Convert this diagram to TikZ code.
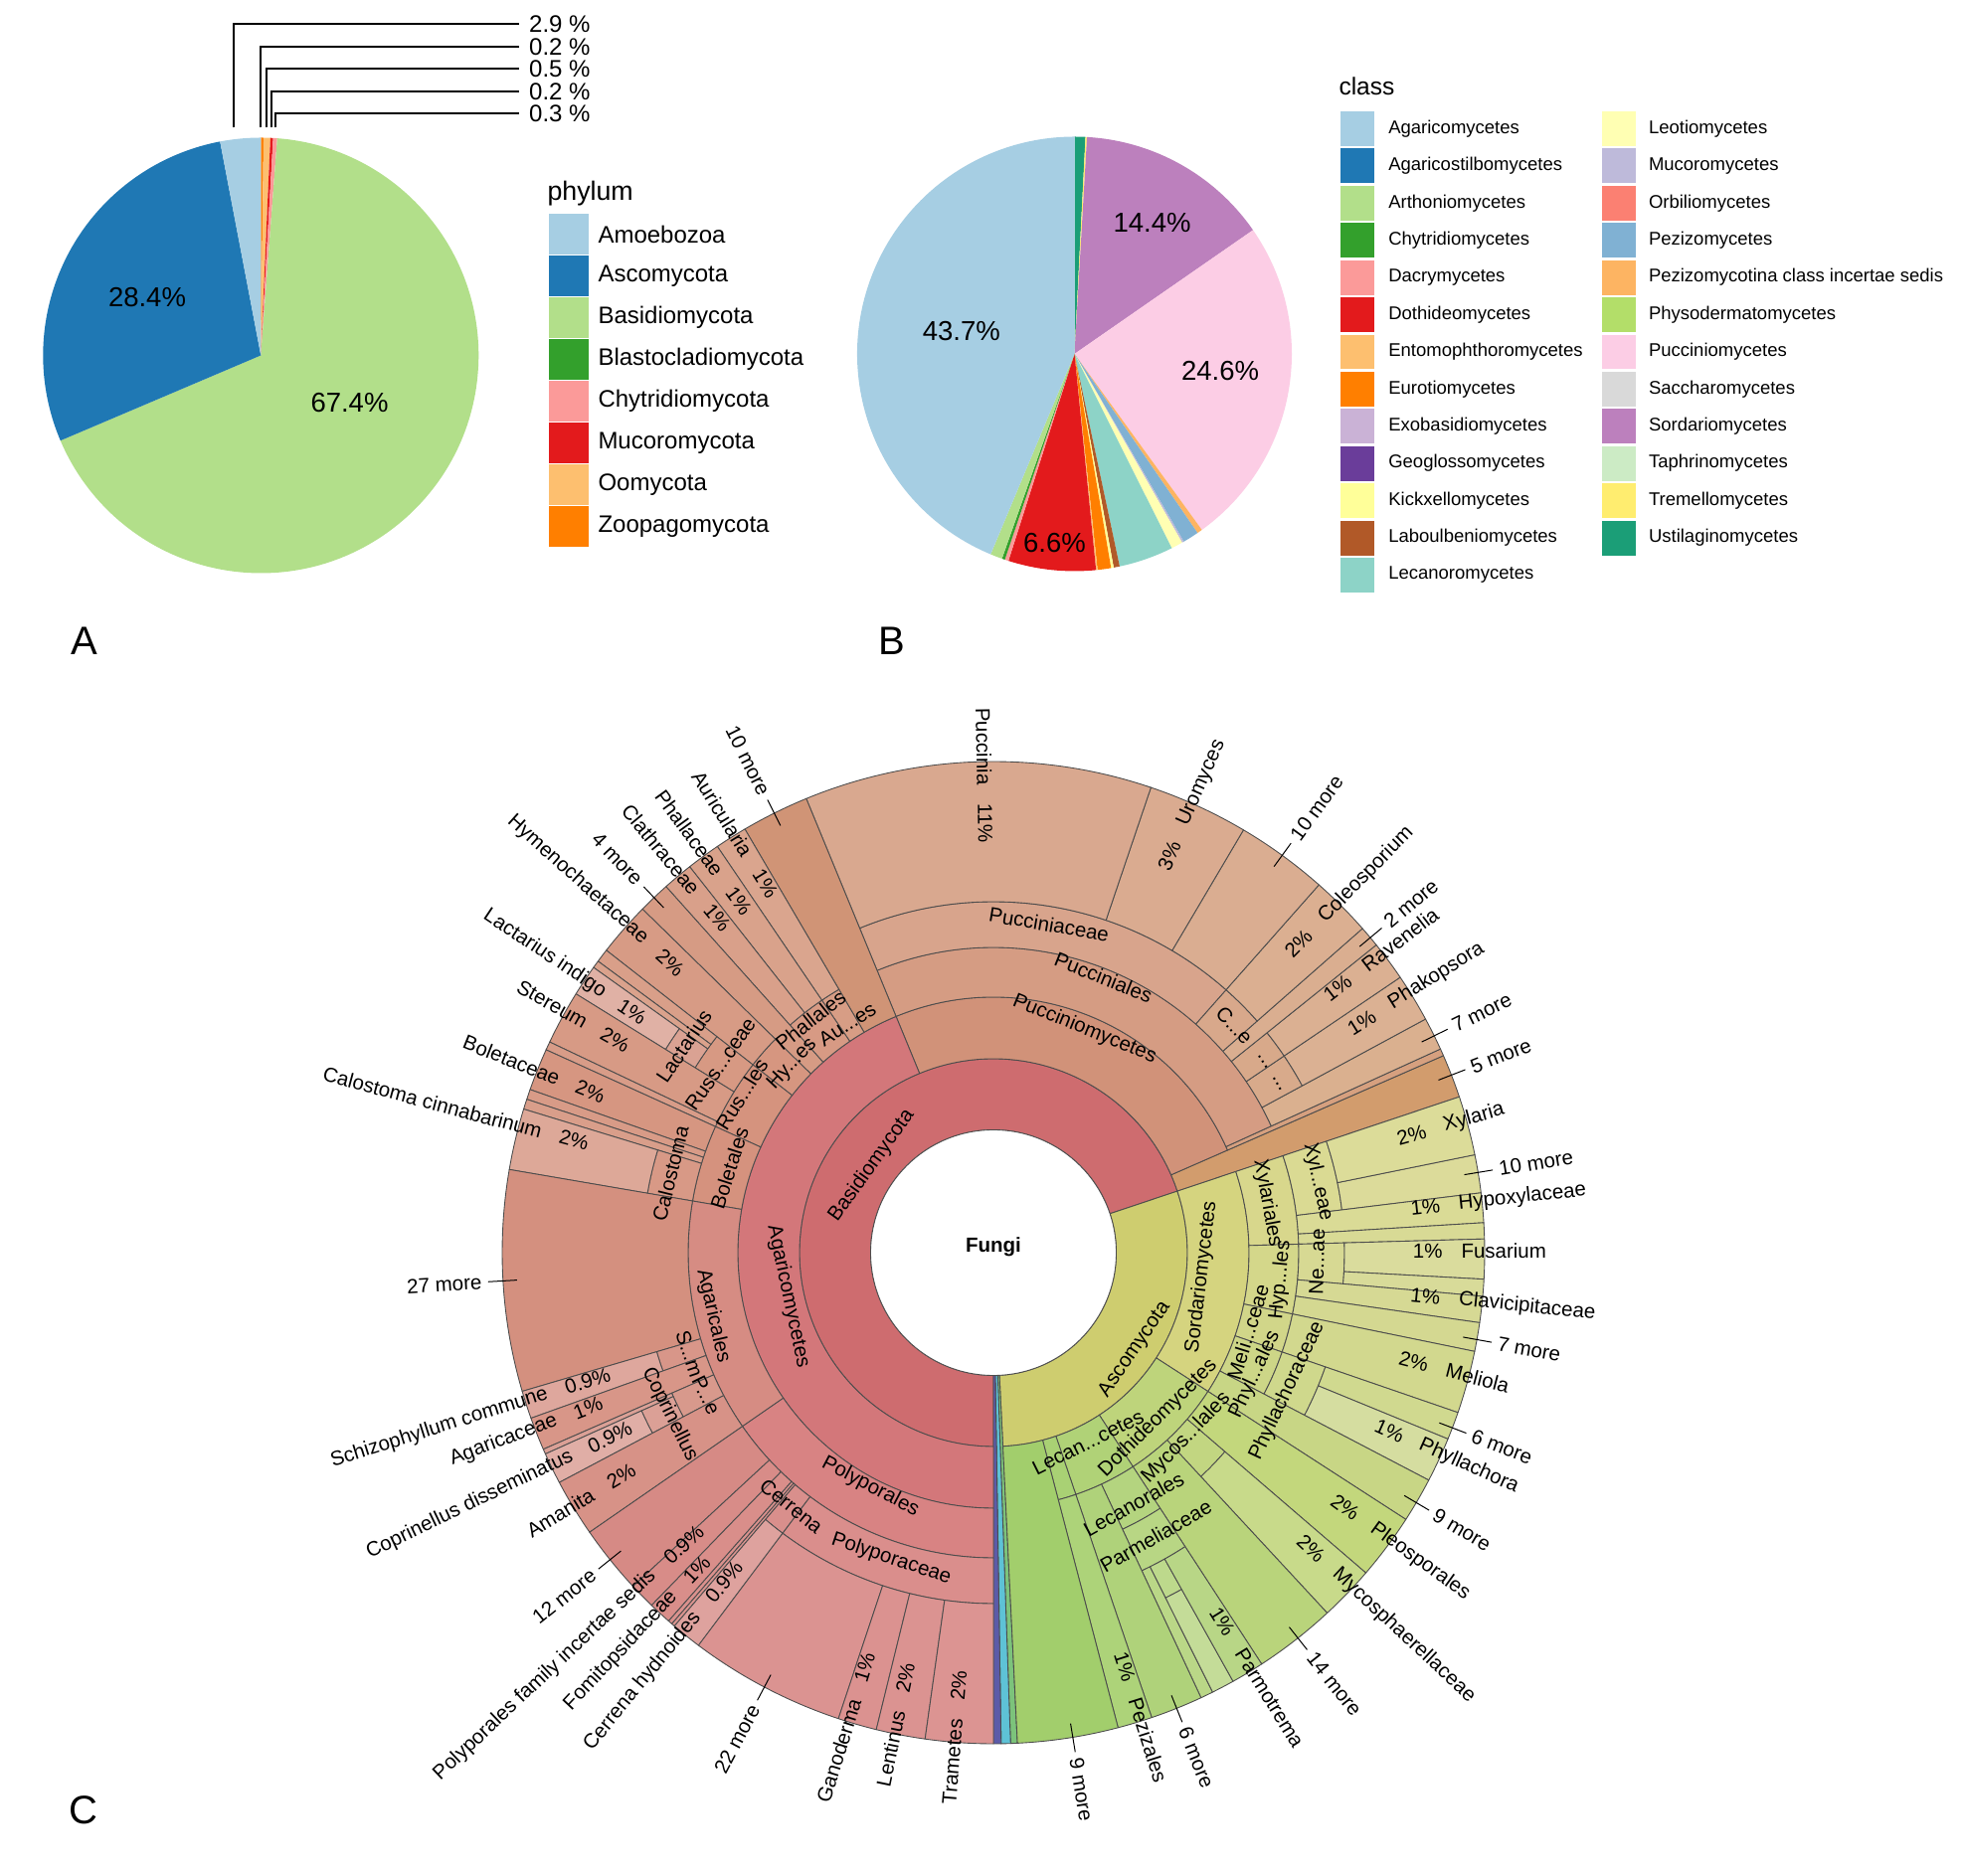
\documentclass[tikz,border=0pt]{standalone}
\usepackage{fontspec}
\setmainfont{Liberation Sans}
\definecolor{lnc}{HTML}{4C4C4C}
\newcommand{\sbc}[5]{\definecolor{tmpc}{HTML}{#5}\filldraw[fill=tmpc,draw=lnc,line width=0.35pt,line join=round] (#1:#3) arc[start angle=#1,end angle=#2,radius=#3] -- (#2:#4) arc[start angle=#2,end angle=#1,radius=#4] -- cycle;}
\newcommand{\pslice}[6]{\definecolor{tmpc}{HTML}{#6}\fill[tmpc] (#1,#2) -- ++(#4:#3) arc[start angle=#4,end angle=#5,radius=#3] -- cycle;}
\newcommand{\lkey}[8]{\definecolor{tmpc}{HTML}{#5}\fill[tmpc] (#1,#3) rectangle (#2,{#3-#4});\node[#7,anchor=west] at (#6,{#3-#4/2}) {#8};}
\newcommand{\leafR}[3]{\node[lbl,anchor=east,rotate=#1] at (#1:452) {#2};\node[lbl,anchor=west,rotate=#1] at (#1:470) {#3};}
\newcommand{\leafL}[3]{\pgfmathsetmacro{\rotL}{#1-180}\node[lbl,anchor=west,rotate=\rotL] at (#1:452) {#2};\node[lbl,anchor=east,rotate=\rotL] at (#1:470) {#3};}
\newcommand{\moreR}[2]{\draw[ldr] (#1:480) -- (#1:509);\node[lbl,anchor=west,rotate=#1] at (#1:515) {#2};}
\newcommand{\moreL}[2]{\pgfmathsetmacro{\rotL}{#1-180}\draw[ldr] (#1:480) -- (#1:509);\node[lbl,anchor=east,rotate=\rotL] at (#1:515) {#2};}
\newcommand{\tanl}[4]{\node[lbl,rotate=#3] at (#1:#2) {#4};}
\begin{document}
\begin{tikzpicture}[x=0.4pt,y=0.4pt,
  lbl/.style={font=\fontsize{8.2}{9.8}\selectfont,inner sep=0pt,text=black},
  ldr/.style={draw=black,line width=0.4pt},
  ldA/.style={draw=black,line width=0.8pt},
  legA/.style={font=\fontsize{9.6}{11}\selectfont,inner sep=0pt},
  legB/.style={font=\fontsize{7.4}{9}\selectfont,inner sep=0pt},
  pct/.style={font=\fontsize{11}{13}\selectfont,inner sep=0pt},
  pan/.style={font=\fontsize{16}{18}\selectfont,inner sep=0pt}]
\useasboundingbox (0,0) rectangle (1975,1887);
\fill[white] (0,0) rectangle (1975,1887);
% ================= Panel A =================
\pslice{262.3}{1529.5}{219}{90}{89.28}{FF7F00}
\pslice{262.3}{1529.5}{219}{89.28}{87.48}{FDBF6F}
\pslice{262.3}{1529.5}{219}{87.48}{86.76}{E31A1C}
\pslice{262.3}{1529.5}{219}{86.76}{85.68}{FB9A99}
\pslice{262.3}{1529.5}{219}{85.68}{-156.96}{B2DF8A}
\pslice{262.3}{1529.5}{219}{-156.96}{-259.2}{1F78B4}
\pslice{262.3}{1529.5}{219}{-259.2}{-270}{A6CEE3}
\node[pct] (pA1) at (148,1588.4) {28.4\%};
\node[pct] (pA2) at (351.5,1481.6) {67.4\%};
\draw[ldA] (235,1758.7) |- (521.7,1862.7);
\draw[ldA] (261.7,1758.7) |- (521.7,1840.3);
\draw[ldA] (267.7,1758.7) |- (521.7,1818);
\draw[ldA] (272.7,1758.7) |- (521.7,1795.3);
\draw[ldA] (277.3,1758.7) |- (521.7,1772.7);
\node[legA,anchor=west] (t1) at (531.7,1862.5) {2.9 \%};
\node[legA,anchor=west] (t2) at (531.7,1840.1) {0.2 \%};
\node[legA,anchor=west] (t3) at (531.7,1817.8) {0.5 \%};
\node[legA,anchor=west] (t4) at (531.7,1795.1) {0.2 \%};
\node[legA,anchor=west] (t5) at (531.7,1772.5) {0.3 \%};
\node[font=\fontsize{10.7}{12}\selectfont,inner sep=0pt,anchor=west] (tA) at (550,1692) {phylum};
\lkey{551.5}{592.4}{1672}{41}{A6CEE3}{601}{legA}{Amoebozoa}
\lkey{551.5}{592.4}{1629.95}{41}{1F78B4}{601}{legA}{Ascomycota}
\lkey{551.5}{592.4}{1587.9}{41}{B2DF8A}{601}{legA}{Basidiomycota}
\lkey{551.5}{592.4}{1545.85}{41}{33A02C}{601}{legA}{Blastocladiomycota}
\lkey{551.5}{592.4}{1503.8}{41}{FB9A99}{601}{legA}{Chytridiomycota}
\lkey{551.5}{592.4}{1461.75}{41}{E31A1C}{601}{legA}{Mucoromycota}
\lkey{551.5}{592.4}{1419.7}{41}{FDBF6F}{601}{legA}{Oomycota}
\lkey{551.5}{592.4}{1377.65}{41}{FF7F00}{601}{legA}{Zoopagomycota}
\node[pan] (LA) at (84.5,1242) {A};
% ================= Panel B =================
\pslice{1080.5}{1531}{218.5}{90}{87.1}{1B9E77}
\pslice{1080.5}{1531}{218.5}{87.1}{86.7}{FFED6F}
\pslice{1080.5}{1531}{218.5}{86.7}{34.75}{BC80BD}
\pslice{1080.5}{1531}{218.5}{34.75}{-54.1}{FCCDE5}
\pslice{1080.5}{1531}{218.5}{-54.1}{-55.5}{FDB462}
\pslice{1080.5}{1531}{218.5}{-55.5}{-59.8}{80B1D3}
\pslice{1080.5}{1531}{218.5}{-59.8}{-60.3}{BEBADA}
\pslice{1080.5}{1531}{218.5}{-60.3}{-63.4}{FFFFB3}
\pslice{1080.5}{1531}{218.5}{-63.4}{-78.0}{8DD3C7}
\pslice{1080.5}{1531}{218.5}{-78.0}{-79.6}{B15928}
\pslice{1080.5}{1531}{218.5}{-79.6}{-80.3}{FFFF99}
\pslice{1080.5}{1531}{218.5}{-80.3}{-83.9}{FF7F00}
\pslice{1080.5}{1531}{218.5}{-83.9}{-84.3}{FDBF6F}
\pslice{1080.5}{1531}{218.5}{-84.3}{-107.7}{E31A1C}
\pslice{1080.5}{1531}{218.5}{-107.7}{-108.7}{FB9A99}
\pslice{1080.5}{1531}{218.5}{-108.7}{-109.5}{33A02C}
\pslice{1080.5}{1531}{218.5}{-109.5}{-112.7}{B2DF8A}
\pslice{1080.5}{1531}{218.5}{-112.7}{-270}{A6CEE3}
\node[pct] (pB1) at (966.8,1553.5) {43.7\%};
\node[pct] (pB2) at (1158.6,1662.5) {14.4\%};
\node[pct] (pB3) at (1227.1,1514.3) {24.6\%};
\node[pct] (pB4) at (1060.5,1341.2) {6.6\%};
\node[font=\fontsize{9.8}{11}\selectfont,inner sep=0pt,anchor=west] (tB) at (1346,1800) {class};
\lkey{1347.5}{1382}{1775}{34.9}{A6CEE3}{1395.8}{legB}{Agaricomycetes}
\lkey{1347.5}{1382}{1737.58}{34.9}{1F78B4}{1395.8}{legB}{Agaricostilbomycetes}
\lkey{1347.5}{1382}{1700.16}{34.9}{B2DF8A}{1395.8}{legB}{Arthoniomycetes}
\lkey{1347.5}{1382}{1662.74}{34.9}{33A02C}{1395.8}{legB}{Chytridiomycetes}
\lkey{1347.5}{1382}{1625.32}{34.9}{FB9A99}{1395.8}{legB}{Dacrymycetes}
\lkey{1347.5}{1382}{1587.9}{34.9}{E31A1C}{1395.8}{legB}{Dothideomycetes}
\lkey{1347.5}{1382}{1550.48}{34.9}{FDBF6F}{1395.8}{legB}{Entomophthoromycetes}
\lkey{1347.5}{1382}{1513.06}{34.9}{FF7F00}{1395.8}{legB}{Eurotiomycetes}
\lkey{1347.5}{1382}{1475.64}{34.9}{CAB2D6}{1395.8}{legB}{Exobasidiomycetes}
\lkey{1347.5}{1382}{1438.22}{34.9}{6A3D9A}{1395.8}{legB}{Geoglossomycetes}
\lkey{1347.5}{1382}{1400.8}{34.9}{FFFF99}{1395.8}{legB}{Kickxellomycetes}
\lkey{1347.5}{1382}{1363.38}{34.9}{B15928}{1395.8}{legB}{Laboulbeniomycetes}
\lkey{1347.5}{1382}{1325.96}{34.9}{8DD3C7}{1395.8}{legB}{Lecanoromycetes}
\lkey{1610.6}{1644.5}{1775}{34.9}{FFFFB3}{1657.5}{legB}{Leotiomycetes}
\lkey{1610.6}{1644.5}{1737.58}{34.9}{BEBADA}{1657.5}{legB}{Mucoromycetes}
\lkey{1610.6}{1644.5}{1700.16}{34.9}{FB8072}{1657.5}{legB}{Orbiliomycetes}
\lkey{1610.6}{1644.5}{1662.74}{34.9}{80B1D3}{1657.5}{legB}{Pezizomycetes}
\lkey{1610.6}{1644.5}{1625.32}{34.9}{FDB462}{1657.5}{legB}{Pezizomycotina class incertae sedis}
\lkey{1610.6}{1644.5}{1587.9}{34.9}{B3DE69}{1657.5}{legB}{Physodermatomycetes}
\lkey{1610.6}{1644.5}{1550.48}{34.9}{FCCDE5}{1657.5}{legB}{Pucciniomycetes}
\lkey{1610.6}{1644.5}{1513.06}{34.9}{D9D9D9}{1657.5}{legB}{Saccharomycetes}
\lkey{1610.6}{1644.5}{1475.64}{34.9}{BC80BD}{1657.5}{legB}{Sordariomycetes}
\lkey{1610.6}{1644.5}{1438.22}{34.9}{CCEBC5}{1657.5}{legB}{Taphrinomycetes}
\lkey{1610.6}{1644.5}{1400.8}{34.9}{FFED6F}{1657.5}{legB}{Tremellomycetes}
\lkey{1610.6}{1644.5}{1363.38}{34.9}{1B9E77}{1657.5}{legB}{Ustilaginomycetes}
\node[pan] (LB) at (896.9,1242) {B};
% ================= Panel C =================
\node[pan] (LC) at (84,66) {C};
\begin{scope}[shift={(999,627)}]
% phylum ring
\sbc{18.5}{270}{123.5}{195}{CE6C6F}
\sbc{-87.2}{18.5}{123.5}{195}{CECD6F}
\sbc{-88.0}{-87.2}{123.5}{494}{7CC37B}
\sbc{-89.1}{-88.0}{123.5}{494}{5EC2D6}
\sbc{-90}{-89.1}{123.5}{494}{5C5BA8}
% Basidiomycota classes
\sbc{18.5}{23.65}{195}{494}{D29C6D}
\sbc{23.65}{112.4}{195}{257}{D19279}
\sbc{112.4}{270}{195}{257}{D3777A}
% Pucciniomycetes
\sbc{23.65}{24.5}{257}{494}{D6A07F}
\sbc{24.5}{112.4}{257}{307}{D59C83}
\sbc{24.5}{28.4}{307}{494}{DAB08F}
\sbc{28.4}{34.1}{307}{353}{D8AA8B}
\sbc{28.4}{34.1}{353}{494}{DBB193}
\sbc{34.1}{38.8}{307}{353}{D8A98A}
\sbc{34.1}{38.8}{353}{494}{DBB092}
\sbc{38.8}{41.3}{307}{494}{DAAE90}
\sbc{41.3}{48.5}{307}{353}{D8A88B}
\sbc{41.3}{48.5}{353}{494}{DBAF91}
\sbc{48.5}{112.4}{307}{353}{D8A48C}
\sbc{48.5}{59.4}{353}{494}{DAAD91}
\sbc{59.4}{71.3}{353}{494}{DAAB90}
\sbc{71.3}{112.4}{353}{494}{D9A88F}
% Agaricomycetes
\sbc{112.4}{120.4}{257}{494}{D09476}
\sbc{120.4}{124.2}{257}{307}{D79D85}
\sbc{120.4}{124.2}{307}{494}{DAA58E}
\sbc{124.2}{131.8}{257}{307}{D79A84}
\sbc{124.2}{128.2}{307}{494}{D9A28B}
\sbc{128.2}{131.8}{307}{494}{D9A08A}
\sbc{131.8}{135.6}{257}{494}{D69B84}
\sbc{135.6}{142}{257}{307}{D69680}
\sbc{135.6}{142}{307}{494}{D79B85}
\sbc{142}{155.6}{257}{307}{D5937E}
\sbc{142}{148.2}{307}{353}{D79983}
\sbc{142}{143.6}{353}{494}{D99F89}
\sbc{143.6}{144.5}{353}{494}{DAA28C}
\sbc{144.5}{148.2}{353}{388}{DAA293}
\sbc{144.5}{148.2}{388}{494}{E0B1A5}
\sbc{148.2}{154.6}{307}{494}{D79A85}
\sbc{154.6}{155.6}{307}{494}{D89C88}
\sbc{155.6}{170.25}{257}{307}{D5927E}
\sbc{155.6}{160.6}{307}{494}{D69681}
\sbc{160.6}{161.8}{307}{494}{D89B87}
\sbc{161.8}{163}{307}{494}{D99E8A}
\sbc{163}{170.25}{307}{353}{D89986}
\sbc{163}{170.25}{353}{494}{DDA898}
\sbc{170.25}{214.7}{257}{307}{D68C83}
\sbc{170.25}{196.4}{307}{494}{D4907F}
\sbc{196.4}{199.7}{307}{353}{D89689}
\sbc{196.4}{199.7}{353}{494}{DEA79D}
\sbc{199.7}{203.6}{307}{494}{D89688}
\sbc{203.6}{207.9}{307}{353}{D8998C}
\sbc{203.6}{204.2}{353}{494}{DBA096}
\sbc{204.2}{207.9}{353}{388}{DBA096}
\sbc{204.2}{207.9}{388}{494}{E0AEA6}
\sbc{207.9}{214.7}{307}{494}{D79287}
\sbc{214.7}{270}{257}{307}{D88383}
\sbc{214.7}{222.8}{307}{494}{D68A85}
\sbc{222.8}{225.9}{307}{494}{D88C88}
\sbc{225.9}{228.6}{307}{494}{D98E8A}
\sbc{228.6}{229.1}{307}{494}{DA918D}
\sbc{229.1}{229.5}{307}{494}{DB948F}
\sbc{229.5}{233.1}{307}{353}{D98F8C}
\sbc{229.5}{233.1}{353}{494}{DEA29E}
\sbc{233.1}{270}{307}{353}{DA8E8C}
\sbc{233.1}{251.6}{353}{494}{DB9391}
\sbc{251.6}{256.2}{353}{494}{DB9290}
\sbc{256.2}{262}{353}{494}{DB9391}
\sbc{262}{270}{353}{494}{DC9492}
% Ascomycota
\sbc{-32.9}{18.5}{195}{257}{D5D47F}
\sbc{1.6}{18.5}{257}{307}{D8D78C}
\sbc{7}{18.5}{307}{353}{DADA93}
\sbc{7}{11.5}{353}{494}{DCDB9A}
\sbc{11.5}{18.5}{353}{494}{DCDC99}
\sbc{3.5}{7}{307}{494}{DADB96}
\sbc{1.6}{3.5}{307}{494}{D8DA95}
\sbc{-11.6}{1.6}{257}{307}{D4D78A}
\sbc{-5.1}{1.6}{307}{353}{D7D993}
\sbc{-3.1}{1.6}{353}{494}{DADC9D}
\sbc{-5.1}{-3.1}{353}{494}{D8DB99}
\sbc{-8.2}{-5.1}{307}{494}{D6D994}
\sbc{-11.6}{-8.2}{307}{494}{D4D891}
\sbc{-19}{-11.6}{257}{307}{D1D689}
\sbc{-19}{-11.6}{307}{494}{D2D88E}
\sbc{-27.6}{-19}{257}{307}{CDD687}
\sbc{-27.6}{-19}{307}{353}{CFD88C}
\sbc{-22.3}{-19}{353}{494}{D0D98F}
\sbc{-27.6}{-22.3}{353}{494}{D5DDA0}
\sbc{-32.9}{-27.6}{257}{494}{C8D685}
\sbc{-56.9}{-32.9}{195}{257}{BED47B}
\sbc{-40.7}{-32.9}{257}{494}{C3D77C}
\sbc{-47.2}{-40.7}{257}{307}{C2D681}
\sbc{-47.2}{-40.7}{307}{494}{C8DA8A}
\sbc{-56.9}{-47.2}{257}{494}{B9D47B}
\sbc{-71.2}{-56.9}{195}{257}{B0D277}
\sbc{-65}{-56.9}{257}{307}{B4D47F}
\sbc{-65}{-56.9}{307}{353}{B8D684}
\sbc{-65}{-63.5}{353}{494}{BAD787}
\sbc{-63.5}{-60.8}{353}{388}{BDD98C}
\sbc{-63.5}{-60.8}{388}{494}{C4DC98}
\sbc{-60.8}{-56.9}{353}{494}{B8D686}
\sbc{-71.2}{-65}{257}{494}{AFD27A}
\sbc{-75.3}{-71.2}{195}{257}{A9D174}
\sbc{-75.3}{-71.2}{257}{494}{ADD379}
\sbc{-87.2}{-75.3}{195}{494}{A2CE6C}
% hole
\filldraw[fill=white,draw=lnc,line width=0.35pt] (0,0) circle[radius=123.5];
\node[lbl,font=\fontsize{8.2}{9.8}\selectfont\bfseries] (fungi) at (0,6) {Fungi};
% internal labels
\tanl{144.45}{150.5}{54.45}{Basidiomycota}
\tanl{-34.4}{172.3}{55.6}{Ascomycota}
\tanl{67.85}{242.8}{-22.15}{Pucciniomycetes}
\tanl{192}{211}{282}{Agaricomycetes}
\tanl{-6.7}{210.8}{83.3}{Sordariomycetes}
\tanl{-45.2}{235}{44.8}{Dothideomycetes}
\tanl{-63.5}{213}{26.5}{Lecan...cetes}
\tanl{68.2}{298}{-21.8}{Pucciniales}
\tanl{80.4}{335}{-9.6}{Pucciniaceae}
\tanl{43.3}{333}{-46.7}{C...e}
\tanl{35.3}{332}{-54.7}{...}
\tanl{30.7}{332}{-59.3}{...}
\tanl{10.2}{280}{-79.8}{Xylariales}
\tanl{12.3}{334}{-77.7}{Xyl...eae}
\tanl{-5.5}{290}{84.5}{Hyp...les}
\tanl{-1.6}{325.5}{88.4}{Ne...ae}
\tanl{-17.35}{268}{72.65}{Meli...ceae}
\tanl{-25}{290}{65}{Phyl...ales}
\tanl{-25.2}{326.5}{64.8}{Phyllachoraceae}
\tanl{-43.9}{269}{46.1}{Mycos...lales}
\tanl{-60.85}{289.6}{29.15}{Lecanorales}
\tanl{-60.2}{328.5}{29.8}{Parmeliaceae}
\tanl{122.6}{273}{32.6}{Au...es}
\tanl{136.8}{277.5}{46.8}{Hy...es}
\tanl{128.2}{297.7}{38.2}{Phallales}
\tanl{147.8}{299}{57.8}{Rus...les}
\tanl{145.35}{333.8}{55.35}{Russ...ceae}
\tanl{146.3}{374.3}{56.3}{Lactarius}
\tanl{162.25}{278.8}{72.25}{Boletales}
\tanl{166.25}{334.5}{76.25}{Calostoma}
\tanl{192.75}{289}{282.75}{Agaricales}
\tanl{198.4}{322}{288.4}{S...m}
\tanl{206.4}{322.6}{296.4}{P...e}
\tanl{206.55}{363.9}{296.55}{Coprinellus}
\tanl{242.3}{266}{332.3}{Polyporales}
\tanl{251.55}{324.9}{341.55}{Polyporaceae}
\tanl{231.45}{326}{321.45}{Cerrena}
% outer labels, right side
\leafR{15.7}{2\%}{Xylaria}
\moreR{9.4}{10 more}
\leafR{6.0}{1\%}{Hypoxylaceae}
\leafR{0.2}{1\%}{Fusarium}
\leafR{-5.8}{1\%}{Clavicipitaceae}
\moreR{-10.2}{7 more}
\leafR{-14.5}{2\%}{Meliola}
\moreR{-20.9}{6 more}
\leafR{-24.2}{1\%}{Phyllachora}
\moreR{-30.6}{9 more}
\leafR{-35.9}{2\%}{Pleosporales}
\leafR{-43.0}{2\%}{Mycosphaerellaceae}
\moreR{-51.7}{14 more}
\leafR{-58.2}{1\%}{Parmotrema}
\moreR{-68.1}{6 more}
\leafR{-72.4}{1\%}{Pezizales}
\moreR{-80.7}{9 more}
\moreR{21.2}{5 more}
\moreR{26.2}{7 more}
\leafR{32.0}{1\%}{Phakopsora}
\leafR{37.6}{1\%}{Ravenelia}
\moreR{39.9}{2 more}
\leafR{45.4}{2\%}{Coleosporium}
\moreR{54.0}{10 more}
\leafR{66.1}{3\%}{Uromyces}
% outer labels, left side
\leafL{91.1}{11\%}{Puccinia}
\moreL{116.5}{10 more}
\leafL{121.7}{1\%}{Auricularia}
\leafL{125.9}{1\%}{Phallaceae}
\leafL{129.5}{1\%}{Clathraceae}
\moreL{133.7}{4 more}
\leafL{138.1}{2\%}{Hymenochaetaceae}
\leafL{146.3}{1\%}{Lactarius indigo}
\leafL{150.6}{2\%}{Stereum}
\leafL{158.2}{2\%}{Boletaceae}
\leafL{165.0}{2\%}{Calostoma cinnabarinum}
\moreL{183.3}{27 more}
\leafL{197.55}{0.9\%}{Schizophyllum commune}
\leafL{200.95}{1\%}{Agaricaceae}
\leafL{205.7}{0.9\%}{Coprinellus disseminatus}
\leafL{211.0}{2\%}{Amanita}
\moreL{218.7}{12 more}
\leafL{223.3}{0.9\%}{Polyporales family incertae sedis}
\leafL{226.9}{1\%}{Fomitopsidaceae}
\leafL{230.7}{0.9\%}{Cerrena hydnoides}
\moreL{242.2}{22 more}
\leafL{252.75}{1\%}{Ganoderma}
\leafL{258.3}{2\%}{Lentinus}
\leafL{265.4}{2\%}{Trametes}
\end{scope}
\end{tikzpicture}
\end{document}
